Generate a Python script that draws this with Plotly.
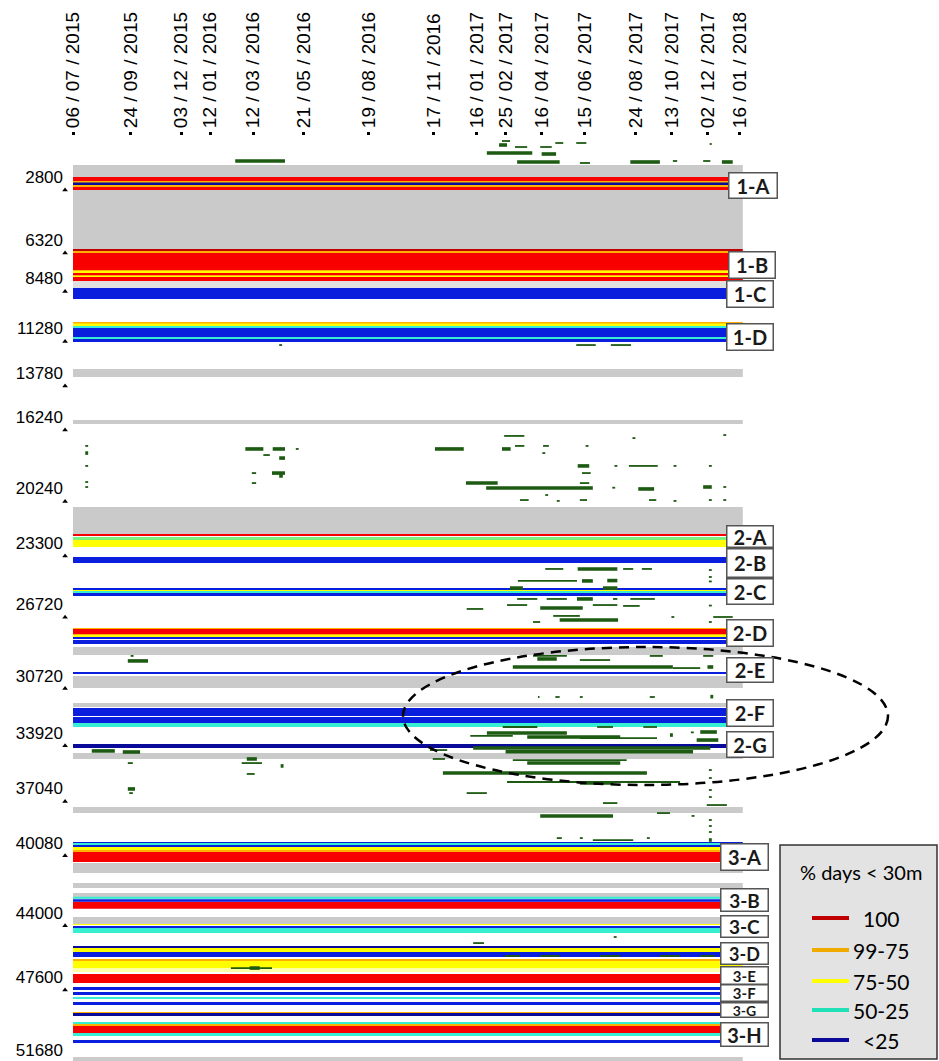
import pandas as pd
import plotly.graph_objects as go

# ---------------------------------------------------------------------------
# Receiver array: deployment period and array positions
# ---------------------------------------------------------------------------
START = pd.Timestamp("2015-07-06")
DEPLOY_DAYS = 929  # receivers active from 06/07/2015 until late January 2018

tick_dates = ["2015-07-06", "2015-09-24", "2015-12-03", "2016-01-12",
              "2016-03-12", "2016-05-21", "2016-08-19", "2016-11-17",
              "2017-01-16", "2017-02-25", "2017-04-16", "2017-06-15",
              "2017-08-24", "2017-10-13", "2017-12-02", "2018-01-16"]

y_ticks = [2800, 6320, 8480, 11280, 13780, 16240, 20240, 23300, 26720,
           30720, 33920, 37040, 40080, 44000, 47600, 51680]

# Bands along the array (from, to) grouped by "% days < 30 m" class
gray_bands = [(2128, 6832), (13552, 14000), (16408, 16632), (21280, 22792),
              (29120, 29568), (30744, 31416), (32256, 32480), (35056, 35392),
              (38080, 38416), (41216, 41776), (42336, 42616), (42896, 43232),
              (44240, 44632), (52080, 52304)]
lightgray_bands = [(8624, 9016)]
darkred_bands = [(6832, 6944)]
red_bands = [(2800, 3024), (3332, 3528), (7056, 8008), (8176, 8288),
             (8400, 8624), (22792, 22876), (28112, 28392), (40600, 41160),
             (43392, 43784), (47432, 47936), (50344, 50736)]
orange_bands = [(3024, 3108), (3248, 3332), (6944, 7056), (8008, 8092),
                (8288, 8344), (10920, 11004), (28056, 28112), (28392, 28476),
                (40488, 40600), (46592, 46704), (49560, 49616), (50232, 50344)]
yellow_bands = [(8092, 8176), (8344, 8400), (11004, 11144), (23128, 23520),
                (25900, 26012), (28476, 28560), (40320, 40488), (44632, 44688),
                (45976, 46200), (46704, 47096)]
paleyellow_bands = [(47096, 47320)]
lightgreen_bands = [(22960, 23128)]
cyan_bands = [(11144, 11256), (11760, 11872), (26012, 26096), (33376, 33600),
              (40096, 40208), (43112, 43224), (44856, 45136), (48720, 48832),
              (50120, 50232), (50736, 50904)]
blue_bands = [(9016, 9632), (11256, 11760), (11872, 12040), (24080, 24416),
              (25816, 25900), (26096, 26264), (28560, 28672), (28728, 28812),
              (28868, 28952), (30520, 30632), (32536, 32984), (33040, 33376),
              (40040, 40096), (40208, 40320), (43252, 43392), (44744, 44856),
              (46200, 46480), (48160, 48328), (48440, 48608), (49000, 49168),
              (51128, 51296)]
navy_bands = [(3108, 3248), (34552, 34776), (45864, 45948), (49616, 49784)]

# Detections: (first day, last day, position) counted from 06/07/2015
det_heavy = [
    (225, 294, 1904), (574, 637, 1456), (591, 602, 1008), (650, 670, 1512),
    (616, 675, 1960), (773, 814, 1960), (900, 915, 1960),
    (17, 21, 18260), (239, 264, 18030), (277, 294, 18030), (502, 542, 18030),
    (595, 607, 18030), (700, 716, 18980), (276, 294, 19380), (286, 291, 19540),
    (286, 294, 18540), (545, 589, 19940), (573, 721, 20220), (784, 806, 20270),
    (874, 886, 20160),
    (700, 755, 24750), (706, 721, 25420), (741, 755, 25400), (606, 624, 25820),
    (735, 755, 25820), (699, 721, 26430), (648, 707, 26940), (675, 756, 27610),
    (644, 671, 29790), (610, 832, 30240), (880, 888, 30240), (76, 104, 29900),
    (884, 888, 31900), (574, 685, 33940), (630, 759, 34160), (828, 832, 34050),
    (870, 893, 33880), (865, 895, 34330), (555, 884, 34780), (600, 860, 34990),
    (630, 759, 35620), (513, 796, 36180), (703, 749, 36740), (648, 749, 38580),
    (882, 886, 39928),
    (26, 58, 34940), (69, 93, 35000), (241, 255, 35390), (288, 292, 35780),
    (76, 86, 37070), (245, 259, 47100),
]
det_light = [
    (595, 606, 784), (613, 630, 1120), (648, 664, 1120), (669, 680, 896),
    (698, 712, 896), (703, 717, 2016), (832, 838, 1904), (874, 884, 1904),
    (883, 886, 952),
    (698, 725, 12210), (746, 774, 12210), (286, 290, 12210),
    (598, 626, 17300), (776, 780, 17420), (902, 906, 17250), (17, 21, 17860),
    (309, 313, 18030), (613, 626, 17860), (652, 660, 17860), (651, 655, 18260),
    (711, 715, 17860), (264, 273, 18370), (17, 21, 18980), (751, 755, 18980),
    (771, 811, 18980), (833, 837, 18980), (882, 886, 18980), (706, 718, 19380),
    (248, 254, 19380), (248, 254, 19940), (17, 21, 19880), (17, 21, 20160),
    (703, 716, 19940), (748, 752, 20200), (902, 906, 20160), (620, 632, 20890),
    (655, 659, 20610), (671, 675, 20940), (703, 713, 20890), (799, 809, 20890),
    (833, 837, 20940), (882, 886, 20890), (902, 906, 20890),
    (655, 680, 24750), (763, 777, 24750), (789, 803, 24750), (882, 886, 24810),
    (617, 699, 25420), (882, 886, 25200), (882, 886, 25450), (616, 644, 26430),
    (657, 685, 26430), (749, 755, 26430), (773, 807, 26430), (546, 569, 26990),
    (602, 630, 26770), (721, 755, 26770), (763, 786, 26820), (882, 886, 26800),
    (830, 834, 27440), (638, 648, 27720), (666, 703, 27380), (882, 886, 27720),
    (888, 915, 27440),
    (638, 685, 29620), (703, 745, 29850), (800, 818, 29620), (874, 888, 29620),
    (832, 870, 30300), (80, 84, 29620),
    (645, 647, 31920), (669, 675, 31920), (703, 707, 31920), (800, 807, 31920),
    (596, 644, 33600), (727, 749, 33600), (791, 810, 33600), (551, 610, 34100),
    (703, 810, 34220), (857, 861, 33900), (495, 519, 34890), (499, 516, 35390),
    (610, 768, 35450), (602, 842, 36680), (546, 574, 37300), (735, 755, 37860),
    (879, 907, 37970), (810, 828, 38420), (858, 862, 38580), (671, 678, 39820),
    (703, 707, 39820), (721, 777, 39930), (796, 800, 39820),
    (882, 886, 36010), (882, 886, 36456), (882, 886, 37128), (882, 886, 37520),
    (882, 886, 38808), (882, 886, 39144), (882, 886, 39480),
    (76, 83, 35620), (234, 262, 35620), (241, 252, 36230), (78, 83, 37300),
    (599, 620, 46420), (648, 675, 46420), (731, 759, 46420), (814, 842, 46420),
    (870, 890, 46420), (219, 276, 47100), (555, 570, 45700), (750, 754, 45360),
]

# Receiver line labels and their positions
line_labels = ["1-A", "1-B", "1-C", "1-D", "2-A", "2-B", "2-C", "2-D", "2-E",
               "2-F", "2-G", "3-A", "3-B", "3-C", "3-D", "3-E", "3-F", "3-G",
               "3-H"]
line_pos = [3276, 7728, 9352, 11760, 22932, 24416, 26012, 28336, 30408,
            32816, 34580, 40880, 43288, 44772, 46284, 47488, 48496, 49448,
            50820]

legend_labels = ["100", "99-75", "75-50", "50-25", "<25"]

# ---------------------------------------------------------------------------
# Styling
# ---------------------------------------------------------------------------
W, H = 939, 1061
L, R, T, B = 64, 189, 136, 0
PW, PH = W - L - R, H - T - B

band_styles = [
    (gray_bands, "#cacaca"),
    (lightgray_bands, "#e0e0e0"),
    (darkred_bands, "#c00000"),
    (red_bands, "#f80000"),
    (orange_bands, "#ffb000"),
    (yellow_bands, "#ffff00"),
    (paleyellow_bands, "#ffffa8"),
    (lightgreen_bands, "#7cf07c"),
    (cyan_bands, "#36efd2"),
    (blue_bands, "#0a1ede"),
    (navy_bands, "#0a0a9a"),
]
legend_colors = ["#c00000", "#f0aa00", "#ffff00", "#20e0b8", "#0a0a9a"]
DET_COLOR = "#1d5a12"

# label box geometry (centre x px, outer width, outer height, font size)
box_cx = [753, 752, 750, 750] + [750] * 7 + [744] * 8
box_w = [50, 48, 48, 48] + [48] * 7 + [49] * 8
box_h = [27, 28, 28, 28, 23, 30, 27, 28, 26, 28, 27, 28, 24, 23, 23, 19,
         18, 16, 25]
box_fs = [20] * 11 + [20, 19, 19, 18, 15, 15, 14, 20]


def fx(px):
    return (px - L) / PW


def fy(py):
    return (H - py) / PH


def day(d):
    return START + pd.Timedelta(days=d)


fig = go.Figure()

span_ms = DEPLOY_DAYS * 24 * 3600 * 1000
for bands, color in band_styles:
    fig.add_trace(go.Bar(
        orientation="h",
        y=[(a + b) / 2 for a, b in bands],
        width=[b - a for a, b in bands],
        x=[span_ms] * len(bands),
        base=[START] * len(bands),
        marker=dict(color=color, line=dict(width=0)),
        hoverinfo="skip",
    ))


def segments(dets):
    xs, ys = [], []
    for d0, d1, p in dets:
        xs += [day(d0), day(d1), None]
        ys += [p, p, None]
    return xs, ys


for dets, lw in [(det_light, 1.8), (det_heavy, 3.6)]:
    xs, ys = segments(dets)
    fig.add_trace(go.Scatter(x=xs, y=ys, mode="lines",
                             line=dict(color=DET_COLOR, width=lw),
                             hoverinfo="skip"))

# small markers beneath each position label
fig.add_trace(go.Scatter(
    x=[day(-11)] * len(y_ticks), y=[v + 730 for v in y_ticks],
    mode="markers", marker=dict(symbol="triangle-up", size=5, color="black"),
    cliponaxis=False, hoverinfo="skip"))

fig.update_layout(
    width=W, height=H,
    margin=dict(l=L, r=R, t=T, b=B),
    plot_bgcolor="white", paper_bgcolor="white",
    barmode="overlay", showlegend=False,
    font=dict(family="Liberation Sans, Arial, sans-serif", color="black"),
)

fig.update_xaxes(
    type="date", side="top",
    range=[day(-12.5), day(939)],
    tickvals=tick_dates,
    ticktext=[pd.Timestamp(t).strftime("%d / %m / %Y") for t in tick_dates],
    tickangle=-90, tickfont=dict(size=19),
    ticks="outside", ticklen=3, tickwidth=3, tickcolor="black",
    showgrid=False, zeroline=False, showline=False,
)
fig.update_yaxes(
    range=[52304, 504],
    tickvals=y_ticks, ticktext=[str(v) for v in y_ticks],
    tickfont=dict(size=17), ticks="",
    showgrid=False, zeroline=False, showline=False,
)

# receiver line label boxes
for lab, pos, cx, bw, bh, fs in zip(line_labels, line_pos, box_cx, box_w,
                                    box_h, box_fs):
    fig.add_annotation(
        text=f"<b>{lab}</b>", xref="paper", yref="y", x=fx(cx), y=pos,
        xanchor="center", yanchor="middle", showarrow=False,
        width=bw - 3, height=bh - 3, borderwidth=1.5, borderpad=0,
        bordercolor="#555555", bgcolor="white",
        font=dict(family="Lato, sans-serif", size=fs, color="#1a1a1a"),
    )

# highlighted area
fig.add_shape(type="circle", xref="paper", yref="paper",
              x0=fx(403), x1=fx(888), y0=fy(785), y1=fy(647),
              line=dict(color="black", width=2.5, dash="10px,7px"))

# legend panel
fig.add_shape(type="rect", xref="paper", yref="paper",
              x0=fx(780), x1=fx(937), y0=fy(1059), y1=fy(845),
              fillcolor="#e3e3e3", line=dict(color="#333333", width=1.5))
fig.add_annotation(text="% days < 30m", xref="paper", yref="paper",
                   x=fx(861), y=fy(872), showarrow=False,
                   xanchor="center", yanchor="middle",
                   font=dict(family="Lato, sans-serif", size=20, color="black"))
legend_py = [918, 950, 981, 1010, 1040]
for lab, col, py in zip(legend_labels, legend_colors, legend_py):
    fig.add_shape(type="line", xref="paper", yref="paper",
                  x0=fx(812), x1=fx(849), y0=fy(py), y1=fy(py),
                  line=dict(color=col, width=4))
    fig.add_annotation(text=lab, xref="paper", yref="paper",
                       x=fx(881), y=fy(py), showarrow=False,
                       xanchor="center", yanchor="middle",
                       font=dict(family="Lato, sans-serif", size=21,
                                 color="black"))

fig.write_html("out.html")
